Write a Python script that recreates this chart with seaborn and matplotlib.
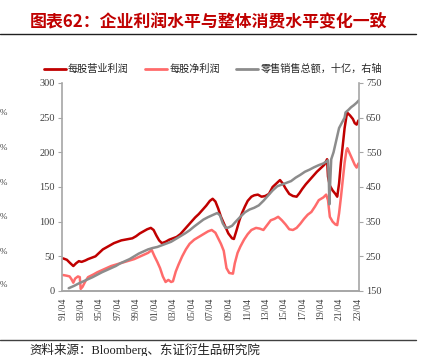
import numpy as np
import pandas as pd
import seaborn as sns
import matplotlib.pyplot as plt
from matplotlib.lines import Line2D

# per-share operating profit (left axis)
op_t = [1991.3, 1991.7, 1992.0, 1992.4, 1992.7, 1993.0, 1993.3, 1993.7, 1994.0, 1994.4,
        1994.8, 1995.2, 1995.6, 1996.0, 1996.4, 1996.8, 1997.2, 1997.6, 1998.0, 1998.4,
        1998.8, 1999.2, 1999.6, 2000.0, 2000.4, 2000.8, 2001.1, 2001.4, 2001.7, 2002.0,
        2002.4, 2002.8, 2003.2, 2003.6, 2004.0, 2004.4, 2004.8, 2005.2, 2005.6, 2006.0,
        2006.4, 2006.8, 2007.2, 2007.5, 2007.8, 2008.1, 2008.4, 2008.8, 2009.2, 2009.6,
        2009.8, 2010.1, 2010.4, 2010.7, 2011.0, 2011.3, 2011.7, 2012.0, 2012.4, 2012.8,
        2013.2, 2013.6, 2014.0, 2014.4, 2014.8, 2015.1, 2015.4, 2015.8, 2016.2, 2016.6,
        2016.9, 2017.2, 2017.6, 2018.0, 2018.4, 2018.8, 2019.2, 2019.6, 2019.9, 2020.0,
        2020.2, 2020.5, 2020.8, 2021.0, 2021.2, 2021.4, 2021.6, 2021.8, 2022.0, 2022.1,
        2022.4, 2022.7, 2022.9, 2023.1, 2023.3]
op_v = [47, 45, 41, 36, 40, 43, 42, 44, 46, 48,
        50, 55, 60, 63, 66, 69, 71, 73, 74, 75,
        76, 79, 83, 86, 89, 91, 88, 80, 73, 69,
        71, 74, 76, 78, 82, 88, 94, 100, 106, 111,
        117, 123, 130, 133, 129, 119, 107, 95, 83, 76,
        75, 88, 102, 113, 122, 130, 136, 138, 139, 136,
        137, 140, 150, 155, 160, 155, 148, 140, 137, 136,
        141, 147, 154, 160, 166, 172, 177, 182, 190, 165,
        152, 145, 140, 136, 155, 185, 210, 235, 252, 257,
        253, 248, 242, 240, 246]

# per-share net profit (left axis)
np_t = [1991.3, 1991.7, 1992.0, 1992.2, 1992.4, 1992.6, 1992.9, 1993.1, 1993.2, 1993.4,
        1993.7, 1994.0, 1994.6, 1995.0, 1995.5, 1996.0, 1996.5, 1997.0, 1997.5, 1998.0,
        1998.5, 1999.0, 1999.5, 2000.0, 2000.5, 2000.9, 2001.2, 2001.5, 2001.8, 2002.1,
        2002.4, 2002.7, 2003.0, 2003.2, 2003.5, 2003.8, 2004.2, 2004.6, 2005.0, 2005.5,
        2006.0, 2006.5, 2007.0, 2007.4, 2007.8, 2008.1, 2008.4, 2008.7, 2009.0, 2009.3,
        2009.7, 2009.9, 2010.2, 2010.5, 2010.9, 2011.3, 2011.7, 2012.2, 2012.6, 2013.0,
        2013.4, 2013.8, 2014.2, 2014.6, 2015.0, 2015.4, 2015.8, 2016.2, 2016.6, 2017.0,
        2017.4, 2017.8, 2018.2, 2018.6, 2019.0, 2019.5, 2019.8, 2020.0, 2020.2, 2020.5,
        2020.8, 2021.0, 2021.2, 2021.4, 2021.6, 2021.8, 2022.0, 2022.1, 2022.4, 2022.7,
        2022.9, 2023.1, 2023.3]
np_v = [23, 22, 21, 17, 12, 18, 21, 20, 3, 6,
        14, 20, 24, 27, 30, 33, 36, 38, 40, 42,
        44, 46, 49, 52, 55, 59, 50, 42, 33, 21,
        13, 16, 13, 14, 28, 38, 50, 60, 68, 74,
        78, 82, 86, 88, 84, 76, 68, 58, 33, 26,
        25, 40, 55, 64, 74, 82, 88, 91, 90, 88,
        95, 102, 104, 107, 102, 96, 89, 88, 91, 97,
        104, 110, 114, 122, 131, 135, 139, 131, 107, 100,
        96, 95, 112, 135, 160, 185, 203, 206, 197, 188,
        182, 178, 184]

# retail sales total, billion (right axis)
rs_t = [1991.9, 1992.5, 1993.0, 1993.5, 1994.0, 1994.5, 1995.0, 1995.5, 1996.0, 1996.5,
        1997.0, 1997.5, 1998.0, 1998.5, 1999.0, 1999.5, 2000.0, 2000.5, 2001.0, 2001.5,
        2002.0, 2002.5, 2003.0, 2003.5, 2004.0, 2004.5, 2005.0, 2005.5, 2006.0, 2006.5,
        2007.0, 2007.5, 2008.0, 2008.3, 2008.6, 2008.9, 2009.2, 2009.6, 2010.0, 2010.5,
        2011.0, 2011.5, 2012.0, 2012.5, 2013.0, 2013.5, 2014.0, 2014.5, 2015.0, 2015.5,
        2016.0, 2016.5, 2017.0, 2017.5, 2018.0, 2018.5, 2019.0, 2019.5, 2019.9, 2020.0,
        2020.1, 2020.15, 2020.25, 2020.35, 2020.6, 2020.9, 2021.2, 2021.5, 2021.8, 2021.9,
        2022.2, 2022.5, 2022.8, 2023.1, 2023.35]
rs_v = [158, 165, 172, 178, 184, 190, 197, 204, 210, 216,
        222, 230, 236, 242, 250, 258, 264, 270, 274, 277,
        282, 287, 292, 300, 308, 316, 325, 336, 346, 356,
        363, 369, 375, 368, 345, 332, 333, 338, 350, 364,
        377, 385, 390, 397, 410, 425, 440, 452, 457, 462,
        467, 477, 485, 494, 500, 507, 513, 518, 525, 527,
        460, 400, 470, 530, 550, 585, 620, 635, 650, 665,
        672, 680, 686, 693, 700]

tick_years = list(range(1991, 2024, 2))
tick_labels = [f"{y % 100:02d}/04" for y in tick_years]

op = pd.DataFrame({"t": op_t, "v": op_v})
net = pd.DataFrame({"t": np_t, "v": np_v})
rs = pd.DataFrame({"t": rs_t, "v": rs_v})

sns.set_theme(style="white")
plt.rcParams["font.family"] = ["Liberation Serif", "Noto Sans CJK SC", "DejaVu Sans"]

c_op = "#C00000"
c_np = "#FF6B6B"
c_rs = "#8C8C8C"
axis_c = "#A6A6A6"

fig = plt.figure(figsize=(4.24, 3.56), dpi=100)
ax = fig.add_axes([0.1455, 0.1826, 0.7012, 0.5843])
ax2 = ax.twinx()

sns.lineplot(data=op, x="t", y="v", ax=ax, color=c_op, linewidth=1.8)
sns.lineplot(data=net, x="t", y="v", ax=ax, color=c_np, linewidth=1.8)
sns.lineplot(data=rs, x="t", y="v", ax=ax2, color=c_rs, linewidth=1.8)

ax.set_xlim(1991.14, 2023.36)
ax.set_ylim(0, 300)
ax2.set_ylim(150, 750)
ax.set_yticks(range(0, 301, 50))
ax2.set_yticks(range(150, 751, 100))
ax.set_xticks([y + 0.25 for y in tick_years])
ax.set_xticklabels(tick_labels, rotation=90)
for a in (ax, ax2):
    a.set_xlabel("")
    a.set_ylabel("")
    a.grid(False)
    for s in a.spines.values():
        s.set_color(axis_c)
        s.set_linewidth(1.2)
    a.spines["top"].set_visible(False)
    a.tick_params(colors="#404040", labelsize=7.5, length=3, width=0.8, color=axis_c, pad=2)
ax.spines["right"].set_visible(False)
ax2.spines["left"].set_visible(False)
ax.tick_params(axis="x", labelsize=7, direction="out")
ax.tick_params(axis="y", direction="out", left=True)
ax2.tick_params(axis="y", direction="out", right=True)

# legend
handles = [Line2D([], [], color=c_op, lw=2),
           Line2D([], [], color=c_np, lw=2),
           Line2D([], [], color=c_rs, lw=2)]
labels = ["每股营业利润", "每股净利润", "零售销售总额，十亿，右轴"]
fig.legend(handles, labels, loc="center", bbox_to_anchor=(0.502, 0.806), ncol=3,
           frameon=False, handlelength=2.2, handletextpad=0.2,
           columnspacing=1.6, prop={"family": ["Noto Sans CJK SC"], "size": 7.3})

# title, rules and source
fig.text(0.07, 0.938, "图表62：企业利润水平与整体消费水平变化一致", color="#C00000",
         fontsize=12.2, fontweight="bold", family=["Noto Sans CJK SC"], va="center")
fig.add_artist(Line2D([0, 0.982], [0.904, 0.904], color="#202020", lw=1.0))
fig.add_artist(Line2D([0, 0.982], [0.045, 0.045], color="#404040", lw=1.0))
fig.text(0.07, 0.016, "资料来源：Bloomberg、东证衍生品研究院", color="#202020",
         fontsize=9, family=["Liberation Serif", "Noto Sans CJK SC"], va="center")

# labels of the neighbouring chart at the left edge
for yy in [113, 148, 183, 217, 252, 285]:
    fig.text(0.0, 1 - yy / 356, "%", fontsize=6.5, color="#404040", va="center", ha="left")

fig.savefig("out.png", dpi=100)
